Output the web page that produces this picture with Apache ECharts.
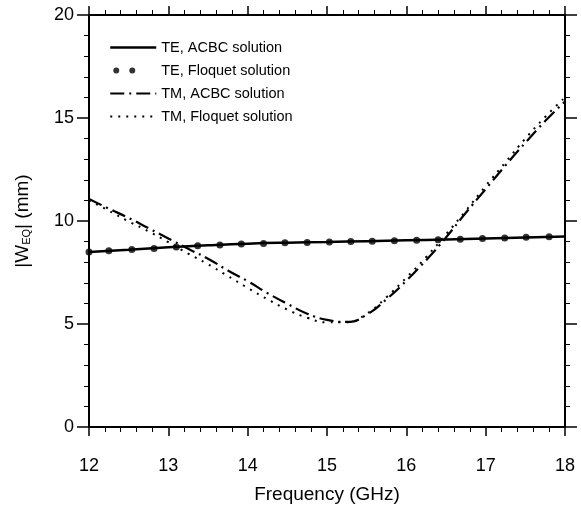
<!DOCTYPE html>
<html>
<head>
<meta charset="utf-8">
<script src="https://cdn.jsdelivr.net/npm/echarts@6/dist/echarts.min.js"></script>
<style>
html,body{margin:0;padding:0;background:#fff;}
#c{width:581px;height:522px;}
</style>
</head>
<body>
<div id="c"></div>
<script>
// ---- data ----
var xTicks = [12, 13, 14, 15, 16, 17, 18];
var yTicks = [0, 5, 10, 15, 20];

var teAcbcX = [12.0, 12.5, 13.0, 13.5, 14.0, 14.5, 15.0, 15.5, 16.0, 16.5, 17.0, 17.5, 18.0];
var teAcbcY = [8.5, 8.6, 8.72, 8.82, 8.9, 8.95, 8.98, 9.02, 9.06, 9.1, 9.15, 9.2, 9.25];

var teFloqX = [12.0, 12.25, 12.54, 12.82, 13.1, 13.37, 13.65, 13.92, 14.2, 14.47, 14.75, 15.03, 15.3, 15.57, 15.85, 16.13, 16.4, 16.68, 16.96, 17.24, 17.51, 17.8];
var teFloqY = [8.5, 8.55, 8.62, 8.67, 8.74, 8.8, 8.84, 8.88, 8.91, 8.94, 8.96, 8.98, 9.0, 9.02, 9.04, 9.06, 9.09, 9.12, 9.15, 9.18, 9.21, 9.23];

var tmAcbcX = [12.0, 12.25, 12.5, 12.75, 13.0, 13.25, 13.5, 13.75, 14.0, 14.25, 14.5, 14.75, 15.0, 15.25, 15.5, 15.75, 16.0, 16.25, 16.5, 16.75, 17.0, 17.25, 17.5, 17.75, 18.0];
var tmAcbcY = [11.07, 10.6, 10.15, 9.65, 9.15, 8.65, 8.17, 7.6, 7.08, 6.5, 5.98, 5.5, 5.2, 5.1, 5.45, 6.2, 7.1, 8.1, 9.2, 10.4, 11.55, 12.7, 13.8, 14.85, 15.8];

var tmFloqX = [12.0, 12.25, 12.5, 12.75, 13.0, 13.25, 13.5, 13.75, 14.0, 14.25, 14.5, 14.75, 15.0, 15.25, 15.5, 15.75, 16.0, 16.25, 16.5, 16.75, 17.0, 17.25, 17.5, 17.75, 18.0];
var tmFloqY = [11.0, 10.5, 9.98, 9.5, 8.97, 8.42, 7.9, 7.33, 6.75, 6.2, 5.7, 5.3, 5.08, 5.08, 5.5, 6.3, 7.25, 8.25, 9.35, 10.5, 11.7, 12.85, 14.0, 15.05, 16.0];

var seriesNames = ['TE, ACBC solution', 'TE, Floquet solution', 'TM, ACBC solution', 'TM, Floquet solution'];

function pairs(xs, ys) { return xs.map(function (x, i) { return [x, ys[i]]; }); }

var FONT = 'Liberation Sans, Arial, Helvetica, sans-serif';
var chart = echarts.init(document.getElementById('c'), null, {renderer: 'canvas'});

var axisLineStyle = {color: '#000', width: 2};
function xAx(pos, show) {
  return {
    type: 'value', position: pos, min: xTicks[0], max: xTicks[xTicks.length - 1], interval: 1,
    axisLine: {show: true, onZero: false, lineStyle: axisLineStyle},
    axisTick: {show: true, inside: false, length: 9, lineStyle: {color: '#000', width: 1.5}},
    minorTick: {show: true, splitNumber: 5, length: 5, lineStyle: {color: '#000', width: 1}},
    splitLine: {show: false},
    axisLabel: {show: show, color: '#000', fontSize: 18, fontFamily: FONT, margin: 30},
    name: show ? 'Frequency (GHz)' : '', nameLocation: 'middle', nameGap: 58,
    nameTextStyle: {color: '#000', fontSize: 19, fontFamily: FONT}
  };
}
function yAx(pos, show) {
  return {
    type: 'value', position: pos, min: yTicks[0], max: yTicks[yTicks.length - 1], interval: 5,
    axisLine: {show: true, onZero: false, lineStyle: axisLineStyle},
    axisTick: {show: true, inside: false, length: 12, lineStyle: {color: '#000', width: 1.5}},
    minorTick: {show: true, splitNumber: 5, length: 5, lineStyle: {color: '#000', width: 1}},
    splitLine: {show: false},
    axisLabel: {show: show, color: '#000', fontSize: 18, fontFamily: FONT, margin: 15},
    name: show ? '{a||W}{b|EQ}{a|| (mm)}' : '', nameLocation: 'middle', nameGap: 57, nameRotate: 90,
    nameTextStyle: {
      color: '#000', fontSize: 19, fontFamily: FONT,
      rich: {
        a: {fontSize: 19, fontFamily: FONT, color: '#000'},
        b: {fontSize: 11, fontFamily: FONT, color: '#000', padding: [8, 0, 0, 0]}
      }
    }
  };
}

var twoDots = 'path://M0,0h0.05v0.05h-0.05zM45.95,11.95h0.05v0.05h-0.05z' +
  'M3,6a3,3 0 1,0 6,0a3,3 0 1,0 -6,0zM19,6a3,3 0 1,0 6,0a3,3 0 1,0 -6,0z';

chart.setOption({
  animation: false,
  backgroundColor: '#fff',
  grid: {left: 89, right: 16, top: 15, bottom: 95},
  xAxis: [xAx('bottom', true), xAx('top', false)],
  yAxis: [yAx('left', true), yAx('right', false)],
  legend: {
    orient: 'vertical', left: 109, top: 40, itemWidth: 46, itemHeight: 12, itemGap: 8, padding: 0,
    textStyle: {color: '#000', fontSize: 14.5, fontFamily: FONT},
    data: [
      {name: seriesNames[0], itemStyle: {opacity: 0}, lineStyle: {width: 2.5}},
      {name: seriesNames[1], icon: twoDots, itemStyle: {color: '#000'}},
      {name: seriesNames[2], itemStyle: {opacity: 0}, lineStyle: {width: 2.2}},
      {name: seriesNames[3], itemStyle: {opacity: 0}, lineStyle: {width: 2}}
    ]
  },
  series: [
    {
      name: seriesNames[0], type: 'line', data: pairs(teAcbcX, teAcbcY), smooth: true,
      showSymbol: false, symbol: 'none', lineStyle: {color: '#000', width: 2.5}, itemStyle: {color: '#000'}
    },
    {
      name: seriesNames[1], type: 'scatter', data: pairs(teFloqX, teFloqY),
      symbol: 'circle', symbolSize: 7, itemStyle: {color: '#000'}
    },
    {
      name: seriesNames[2], type: 'line', data: pairs(tmAcbcX, tmAcbcY), smooth: true,
      showSymbol: false, symbol: 'none',
      lineStyle: {color: '#000', width: 2.2, type: [14, 5, 2, 5]}, itemStyle: {color: '#000'}
    },
    {
      name: seriesNames[3], type: 'line', data: pairs(tmFloqX, tmFloqY), smooth: true,
      showSymbol: false, symbol: 'none',
      lineStyle: {color: '#000', width: 2, type: [2, 6]}, itemStyle: {color: '#000'}
    }
  ]
});
</script>
</body>
</html>
